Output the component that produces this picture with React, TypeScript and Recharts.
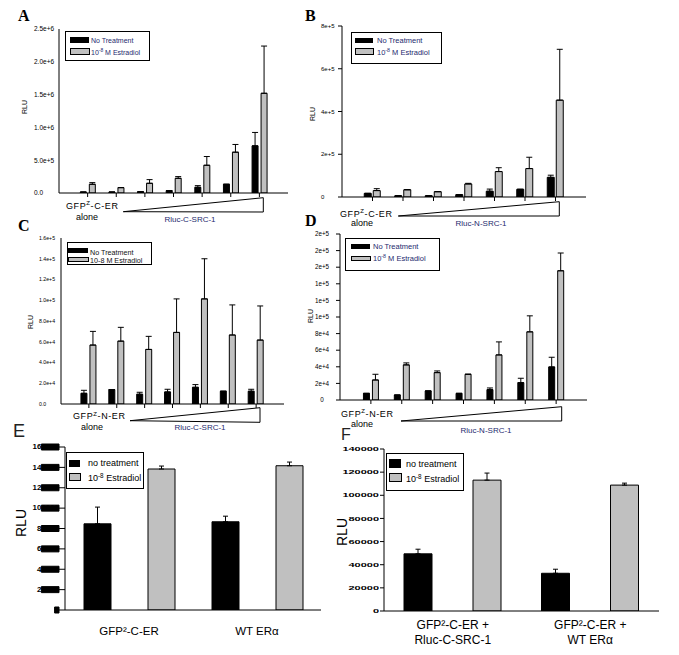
import React from 'react';
import { BarChart, Bar, XAxis, YAxis, ErrorBar } from 'recharts';

const FONT = '"Liberation Sans", Arial, Helvetica, sans-serif';
const SERIF = '"Liberation Serif", "Times New Roman", serif';
const GRAY = '#c0c0c0';
const NAVY = '#1e2a6e';

// ---------- Panel A ----------
const aGroups = ['alone', 'd1', 'd2', 'd3', 'd4', 'd5', 'd6'];
const aNoTreat = [15000, 15000, 20000, 36000, 87000, 133000, 719000];
const aNoTreatErr = [0, 0, 0, 0, 25000, 0, 204000];
const aEstradiol = [133000, 82000, 148000, 224000, 423000, 622000, 1520000];
const aEstradiolErr = [25000, 0, 56000, 26000, 133000, 118000, 720000];
const aYTicks = [0, 500000, 1000000, 1500000, 2000000, 2500000];
const aYLabels = ['0.0', '5.0e+5', '1.0e+6', '1.5e+6', '2.0e+6', '2.5e+6'];

// ---------- Panel B ----------
const bGroups = ['alone', 'd1', 'd2', 'd3', 'd4', 'd5', 'd6'];
const bNoTreat = [17000, 6000, 6000, 11000, 27000, 36000, 92000];
const bNoTreatErr = [0, 0, 0, 0, 10000, 0, 10000];
const bEstradiol = [30000, 34000, 25000, 61000, 119000, 133000, 453000];
const bEstradiolErr = [9000, 0, 0, 3000, 18000, 53000, 238000];
const bYTicks = [0, 200000, 400000, 600000, 800000];
const bYLabels = ['0', '2e+5', '4e+5', '6e+5', '8e+5'];

// ---------- Panel C ----------
const cGroups = ['alone', 'd1', 'd2', 'd3', 'd4', 'd5', 'd6'];
const cNoTreat = [10300, 13900, 9400, 11600, 16100, 12300, 12300];
const cNoTreatErr = [2900, 0, 1900, 2600, 2600, 0, 1900];
const cEstradiol = [56800, 60600, 52600, 69000, 101300, 66500, 61600];
const cEstradiolErr = [13200, 13300, 12600, 32300, 38700, 29000, 32900];
const cYTicks = [0, 20000, 40000, 60000, 80000, 100000, 120000, 140000, 160000];
const cYLabels = ['0.0', '2.0e+4', '4.0e+4', '6.0e+4', '8.0e+4', '1.0e+5', '1.2e+5', '1.4e+5', '1.6e+5'];

// ---------- Panel D ----------
const dGroups = ['alone', 'd1', 'd2', 'd3', 'd4', 'd5', 'd6'];
const dNoTreat = [8000, 6000, 10900, 8000, 12500, 20900, 39800];
const dNoTreatErr = [0, 0, 0, 0, 2000, 5300, 11700];
const dEstradiol = [24100, 42300, 33000, 31000, 54300, 82100, 155700];
const dEstradiolErr = [6900, 2400, 2000, 0, 15700, 19300, 21400];
const dYTicks = [0, 20000, 40000, 60000, 80000, 100000, 120000, 140000, 160000, 180000, 200000];
const dYLabels = ['0', '2e+4', '4e+4', '6e+4', '8e+4', '1e+5', '1e+5', '1e+5', '2e+5', '2e+5', '2e+5'];

// ---------- Panel E ----------
const eGroups = ['GFP²-C-ER', 'WT ERα'];
const eNoTreat = [84600, 86600];
const eNoTreatErr = [16400, 5500];
const eEstradiol = [138400, 141600];
const eEstradiolErr = [2900, 3600];
const eYTicks = [0, 20000, 40000, 60000, 80000, 100000, 120000, 140000, 160000];
const eYLabels = ['0', '20000', '40000', '60000', '80000', '100000', '120000', '140000', '160000'];

// ---------- Panel F ----------
const fGroups = ['GFP²-C-ER + Rluc-C-SRC-1', 'GFP²-C-ER + WT ERα'];
const fLabelLine1 = ['GFP²-C-ER +', 'GFP²-C-ER +'];
const fLabelLine2 = ['Rluc-C-SRC-1', 'WT ERα'];
const fNoTreat = [49400, 32600];
const fNoTreatErr = [4000, 3500];
const fEstradiol = [113100, 108800];
const fEstradiolErr = [6100, 1700];
const fYTicks = [0, 20000, 40000, 60000, 80000, 100000, 120000, 140000];
const fYLabels = ['0', '20000', '40000', '60000', '80000', '100000', '120000', '140000'];

type YTickStyle = {
  anchor: 'start' | 'middle' | 'end';
  x: number;
  fontSize: number;
  bold?: boolean;
  charW?: number;
  cover?: boolean;
};

type PanelProps = {
  x0: number; y0: number; x1: number; y1: number;
  cats: string[];
  noTreat: number[]; noTreatErr: number[];
  estr: number[]; estrErr: number[];
  yTicks: number[]; yLabels: string[];
  barSize: number; barGap: number; catPad: number;
  yStyle: YTickStyle;
  yTickSize: number;
  xTickSize: number;
  errW: number;
  xTick?: (p: any, T: number) => React.ReactElement;
};

const YW = 70;
const XH = 45;
const MT = 5;
const MR = 5;

function Panel(props: PanelProps) {
  const { x0, y0, x1, y1 } = props;
  const L = x0 - YW;
  const T = y0 - MT;
  const W = YW + (x1 - x0) + MR;
  const H = MT + (y1 - y0) + XH;
  const data = props.cats.map((c, i) => ({
    cat: c,
    nt: props.noTreat[i],
    ntE: [0, props.noTreatErr[i]],
    es: props.estr[i],
    esE: [0, props.estrErr[i]],
  }));
  const yMax = props.yTicks[props.yTicks.length - 1];
  const st = props.yStyle;
  const yTick = (p: any) => {
    const i = props.yTicks.indexOf(p.payload.value);
    const s = i >= 0 ? props.yLabels[i] : '';
    const x = st.x - L;
    const y = Number(p.y);
    const tl = st.charW ? s.length * st.charW : undefined;
    const coverW = st.charW ? Math.min(4, s.length) * st.charW : 0;
    return (
      <g>
        <text
          x={x}
          y={y + st.fontSize * 0.36}
          textAnchor={st.anchor}
          fontSize={st.fontSize}
          fontWeight={st.bold ? 'bold' : 'normal'}
          fontFamily={FONT}
          fill="#000"
          textLength={tl}
          lengthAdjust={tl ? 'spacingAndGlyphs' : undefined}
        >
          {s}
        </text>
        {st.cover ? (
          <path d={`M${x - coverW},${y - 3}h${coverW}v6h${-coverW}Z`} fill="#000" stroke="#000" strokeWidth={1} />
        ) : null}
      </g>
    );
  };
  const xTick = (p: any) => (props.xTick ? props.xTick(p, T) : <g />);
  return (
    <div style={{ position: 'absolute', left: L, top: T }}>
      <BarChart
        width={W}
        height={H}
        data={data}
        margin={{ top: MT, right: MR, bottom: 0, left: 0 }}
        barSize={props.barSize}
        barGap={props.barGap}
      >
        <XAxis
          dataKey="cat"
          height={XH}
          padding={{ left: props.catPad, right: props.catPad }}
          tick={xTick}
          tickLine={props.xTickSize > 0 ? { stroke: '#000' } : false}
          tickSize={props.xTickSize}
          axisLine={{ stroke: '#000' }}
          interval={0}
        />
        <XAxis
          xAxisId="top"
          dataKey="cat"
          orientation="top"
          height={0}
          tick={false}
          tickLine={false}
          axisLine={{ stroke: '#000' }}
        />
        <YAxis
          width={YW}
          type="number"
          domain={[0, yMax]}
          ticks={props.yTicks}
          interval={0}
          allowDataOverflow
          tick={yTick}
          tickLine={props.yTickSize > 0 ? { stroke: '#000' } : false}
          tickSize={props.yTickSize}
          axisLine={{ stroke: '#000' }}
        />
        <YAxis
          yAxisId="right"
          orientation="right"
          type="number"
          domain={[0, 1]}
          width={0}
          tick={false}
          tickLine={false}
          axisLine={{ stroke: '#000' }}
        />
        <Bar dataKey="nt" fill="#000" stroke="#000" strokeWidth={1} isAnimationActive={false}>
          <ErrorBar dataKey="ntE" width={props.errW} stroke="#000" strokeWidth={1} isAnimationActive={false} />
        </Bar>
        <Bar dataKey="es" fill={GRAY} stroke="#000" strokeWidth={1} isAnimationActive={false}>
          <ErrorBar dataKey="esE" width={props.errW} stroke="#000" strokeWidth={1} isAnimationActive={false} />
        </Bar>
      </BarChart>
    </div>
  );
}

const eXTick = (p: any, T: number) => {
  const s = String(p.payload.value);
  return (
    <text x={p.x} y={635 - T} textAnchor="middle" fontSize={11.5} fontFamily={FONT} fill="#000">
      {s}
    </text>
  );
};

const fXTick = (p: any, T: number) => {
  const i = p.payload.index ?? fGroups.indexOf(p.payload.value);
  return (
    <text x={p.x} textAnchor="middle" fontSize={12} fontFamily={FONT} fill="#000">
      <tspan x={p.x} y={628.5 - T}>{fLabelLine1[i]}</tspan>
      <tspan x={p.x} y={643.5 - T}>{fLabelLine2[i]}</tspan>
    </text>
  );
};

function Sup({ base, sup, rest }: { base: string; sup: string; rest: string }) {
  return (
    <>
      {base}
      <tspan dy={-3} fontSize="0.7em">{sup}</tspan>
      <tspan dy={3}>{rest}</tspan>
    </>
  );
}

function Legend(props: {
  box: [number, number, number, number];
  sw: [number, number];
  r1: [number, number];
  r2: [number, number];
  tx: number;
  b1: number;
  b2: number;
  fs: number;
  color: string;
  line1: string;
  line2: React.ReactNode;
}) {
  const [bx0, by0, bx1, by1] = props.box;
  return (
    <g>
      <rect x={bx0 + 0.5} y={by0 + 0.5} width={bx1 - bx0} height={by1 - by0} fill="#fff" stroke="#000" strokeWidth={1} />
      <rect x={props.sw[0]} y={props.r1[0]} width={props.sw[1] - props.sw[0]} height={props.r1[1] - props.r1[0]} fill="#000" />
      <rect x={props.sw[0] + 0.5} y={props.r2[0] + 0.5} width={props.sw[1] - props.sw[0]} height={props.r2[1] - props.r2[0]} fill={GRAY} stroke="#000" />
      <text x={props.tx} y={props.b1} fontSize={props.fs} fontFamily={FONT} fill={props.color}>{props.line1}</text>
      <text x={props.tx} y={props.b2} fontSize={props.fs} fontFamily={FONT} fill={props.color}>{props.line2}</text>
    </g>
  );
}

function GfpLabel({ x, y, kind }: { x: number; y: number; kind: string }) {
  return (
    <text x={x} y={y} fontSize={9} fontFamily={FONT} fill="#000" letterSpacing={0.6}>
      GFP<tspan dy={-3.5} fontSize={6}>Z</tspan>
      <tspan dy={3.5}>{`-${kind}-ER`}</tspan>
    </text>
  );
}

function Rot({ x, y, fs, text }: { x: number; y: number; fs: number; text: string }) {
  return (
    <text transform={`translate(${x},${y}) rotate(-90)`} textAnchor="middle" dy={fs * 0.36} fontSize={fs} fontFamily={FONT} fill="#000">
      {text}
    </text>
  );
}

function Overlay() {
  const txt = (x: number, y: number, s: string, fs: number, anchor: 'start' | 'middle' = 'start', color = '#000') => (
    <text x={x} y={y} fontSize={fs} fontFamily={FONT} fill={color} textAnchor={anchor}>{s}</text>
  );
  return (
    <svg width={679} height={655} style={{ position: 'absolute', left: 0, top: 0, pointerEvents: 'none' }}>
      {/* panel letters */}
      <text x={18} y={21} fontSize={16} fontWeight="bold" fontFamily={SERIF}>A</text>
      <text x={305} y={21} fontSize={16} fontWeight="bold" fontFamily={SERIF}>B</text>
      <text x={18} y={231} fontSize={16} fontWeight="bold" fontFamily={SERIF}>C</text>
      <text x={305} y={226} fontSize={16} fontWeight="bold" fontFamily={SERIF}>D</text>
      <text x={13} y={437} fontSize={18} fontFamily={FONT} fill="#222">E</text>
      <text x={341} y={440} fontSize={16} fontFamily={FONT} fill="#222">F</text>

      {/* axis titles */}
      <Rot x={24.5} y={107} fs={7} text="RLU" />
      <Rot x={312.5} y={114} fs={7} text="RLU" />
      <Rot x={30} y={322} fs={7} text="RLU" />
      <Rot x={310} y={316} fs={7} text="RLU" />
      <Rot x={21} y={523} fs={14} text="RLU" />
      <Rot x={341.5} y={532} fs={14} text="RLU" />

      {/* legends */}
      <Legend box={[65, 31, 149, 60]} sw={[70, 89]} r1={[37, 43]} r2={[48, 54]} tx={91} b1={42.5} b2={54.5} fs={7} color={NAVY}
        line1="No Treatment" line2={<Sup base="10" sup="-8" rest=" M Estradiol" />} />
      <Legend box={[351, 32, 441, 63]} sw={[355, 373]} r1={[38, 43]} r2={[48, 54]} tx={377} b1={43} b2={55} fs={7.5} color={NAVY}
        line1="No Treatment" line2={<Sup base="10" sup="-8" rest=" M Estradiol" />} />
      <Legend box={[67, 242, 151, 264]} sw={[68, 88]} r1={[248, 253]} r2={[257, 261]} tx={90} b1={254.5} b2={263} fs={7.2} color="#111"
        line1="No Treatment" line2="10-8 M Estradiol" />
      <Legend box={[345, 238, 439, 270]} sw={[351, 370]} r1={[244, 249]} r2={[256, 260]} tx={373} b1={249} b2={261} fs={7.5} color={NAVY}
        line1="No Treatment" line2={<Sup base="10" sup="-8" rest=" M Estradiol" />} />
      <Legend box={[66, 452, 143, 488]} sw={[69, 80]} r1={[460, 467]} r2={[473, 480]} tx={88} b1={465.5} b2={481} fs={9} color="#000"
        line1="no treatment" line2={<Sup base="10" sup="-8" rest=" Estradiol" />} />
      <Legend box={[386, 453, 463, 490]} sw={[389, 401]} r1={[459, 468]} r2={[473, 481]} tx={406} b1={466.5} b2={481.5} fs={9} color="#000"
        line1="no treatment" line2={<Sup base="10" sup="-8" rest=" Estradiol" />} />

      {/* under-axis annotations A-D */}
      <GfpLabel x={66} y={208.5} kind="C" />
      {txt(87, 219.5, 'alone', 9, 'middle')}
      <polygon points="123.3,211.7 263.3,197.7 263.3,212" fill="none" stroke="#000" strokeWidth={1} />
      {txt(190, 222, 'Rluc-C-SRC-1', 8, 'middle', NAVY)}

      <GfpLabel x={340} y={216.5} kind="C" />
      {txt(362, 226, 'alone', 9, 'middle')}
      <polygon points="398.3,216 559.3,201.7 559.3,216" fill="none" stroke="#000" strokeWidth={1} />
      {txt(481, 226, 'Rluc-N-SRC-1', 8, 'middle', NAVY)}

      <GfpLabel x={73} y={419} kind="N" />
      {txt(92, 430, 'alone', 9, 'middle')}
      <polygon points="130,420.7 260,407.7 260,422.3" fill="none" stroke="#000" strokeWidth={1} />
      {txt(200, 430, 'Rluc-C-SRC-1', 8, 'middle', NAVY)}

      <GfpLabel x={341} y={416.7} kind="N" />
      {txt(362, 427, 'alone', 9, 'middle')}
      <polygon points="401,421 561.7,406.7 561.7,421" fill="none" stroke="#000" strokeWidth={1} />
      {txt(486, 433, 'Rluc-N-SRC-1', 8, 'middle', NAVY)}
    </svg>
  );
}

export default function App() {
  return (
    <div style={{ position: 'absolute', left: 0, top: 0, width: 679, height: 655, background: '#fff', overflow: 'hidden' }}>
      <Panel x0={59} y0={29} x1={288} y1={193} cats={aGroups}
        noTreat={aNoTreat} noTreatErr={aNoTreatErr} estr={aEstradiol} estrErr={aEstradiolErr}
        yTicks={aYTicks} yLabels={aYLabels} barSize={6} barGap={3} catPad={(288 - 59) / 16}
        yStyle={{ anchor: 'start', x: 34, fontSize: 6.5 }} yTickSize={0} xTickSize={4} errW={3} />
      <Panel x0={342} y0={26} x1={586} y1={197} cats={bGroups}
        noTreat={bNoTreat} noTreatErr={bNoTreatErr} estr={bEstradiol} estrErr={bEstradiolErr}
        yTicks={bYTicks} yLabels={bYLabels} barSize={7} barGap={2} catPad={(586 - 342) / 16}
        yStyle={{ anchor: 'start', x: 321, fontSize: 6 }} yTickSize={4} xTickSize={4} errW={3} />
      <Panel x0={61} y0={238} x1={284} y1={404} cats={cGroups}
        noTreat={cNoTreat} noTreatErr={cNoTreatErr} estr={cEstradiol} estrErr={cEstradiolErr}
        yTicks={cYTicks} yLabels={cYLabels} barSize={6} barGap={3} catPad={(284 - 61) / 16}
        yStyle={{ anchor: 'start', x: 39, fontSize: 5.2 }} yTickSize={0} xTickSize={4} errW={3} />
      <Panel x0={340} y0={234} x1={587} y1={400} cats={dGroups}
        noTreat={dNoTreat} noTreatErr={dNoTreatErr} estr={dEstradiol} estrErr={dEstradiolErr}
        yTicks={dYTicks} yLabels={dYLabels} barSize={6} barGap={3} catPad={(587 - 340) / 16}
        yStyle={{ anchor: 'middle', x: 322, fontSize: 6.3 }} yTickSize={4} xTickSize={4} errW={3} />
      <Panel x0={65} y0={447} x1={321} y1={610} cats={eGroups}
        noTreat={eNoTreat} noTreatErr={eNoTreatErr} estr={eEstradiol} estrErr={eEstradiolErr}
        yTicks={eYTicks} yLabels={eYLabels} barSize={27} barGap={37} catPad={0}
        yStyle={{ anchor: 'end', x: 59, fontSize: 6.5, bold: true, charW: 4.4, cover: true }} yTickSize={6} xTickSize={0} errW={2.5}
        xTick={eXTick} />
      <Panel x0={384} y0={449} x1={659} y1={611} cats={fGroups}
        noTreat={fNoTreat} noTreatErr={fNoTreatErr} estr={fEstradiol} estrErr={fEstradiolErr}
        yTicks={fYTicks} yLabels={fYLabels} barSize={28} barGap={41} catPad={0}
        yStyle={{ anchor: 'end', x: 379, fontSize: 6, bold: true, charW: 6.1 }} yTickSize={4} xTickSize={0} errW={2.5}
        xTick={fXTick} />
      <Overlay />
    </div>
  );
}
